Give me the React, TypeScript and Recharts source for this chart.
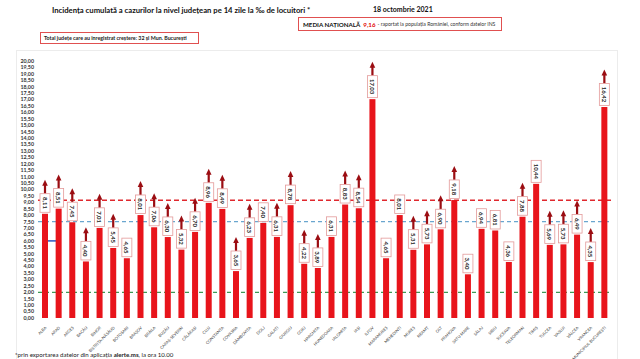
import { Bar, BarChart, ReferenceLine, XAxis, YAxis } from 'recharts';

const counties = [
  'ALBA', 'ARAD', 'ARGEȘ', 'BACĂU', 'BIHOR', 'BISTRIȚA-NĂSĂUD', 'BOTOȘANI', 'BRAȘOV', 'BRĂILA', 'BUZĂU',
  'CARAȘ-SEVERIN', 'CĂLĂRAȘI', 'CLUJ', 'CONSTANȚA', 'COVASNA', 'DÂMBOVIȚA', 'DOLJ', 'GALAȚI', 'GIURGIU', 'GORJ',
  'HARGHITA', 'HUNEDOARA', 'IALOMIȚA', 'IAȘI', 'ILFOV', 'MARAMUREȘ', 'MEHEDINȚI', 'MUREȘ', 'NEAMȚ', 'OLT',
  'PRAHOVA', 'SATU MARE', 'SĂLAJ', 'SIBIU', 'SUCEAVA', 'TELEORMAN', 'TIMIȘ', 'TULCEA', 'VASLUI', 'VÂLCEA',
  'VRANCEA', 'MUNICIPIUL BUCUREȘTI',
];

const incidence = [
  8.11, 8.51, 7.45, 4.4, 7.01, 5.45, 4.65, 8.01, 7.06, 6.3,
  5.32, 6.7, 8.96, 8.49, 3.65, 6.23, 7.4, 6.31, 8.78, 4.22,
  3.89, 6.31, 8.83, 8.54, 17.03, 4.65, 8.01, 5.31, 5.73, 6.9,
  9.18, 3.4, 6.94, 6.81, 4.36, 7.88, 10.44, 5.69, 5.73, 6.49,
  4.35, 16.42,
];

// true = county registered an increase (arrow above the tag)
const rising = [
  true, true, true, true, true, true, false, true, true, true,
  true, true, true, true, true, true, false, true, true, true,
  true, false, true, true, true, false, false, true, true, true,
  true, false, false, false, false, true, false, true, true, true,
  true, true,
];

const yTicks = [
  0, 0.5, 1, 1.5, 2, 2.5, 3, 3.5, 4, 4.5, 5, 5.5, 6, 6.5, 7, 7.5, 8, 8.5, 9, 9.5,
  10, 10.5, 11, 11.5, 12, 12.5, 13, 13.5, 14, 14.5, 15, 15.5, 16, 16.5, 17, 17.5,
  18, 18.5, 19, 19.5, 20,
];

const nationalAverage = 9.16;
const blueLevel = 7.5;
const greenLevel = 2;
const blueMark = 6;

const data = counties.map((name, i) => ({ name, value: incidence[i], up: rising[i] }));

const fmt = (v: number) => v.toFixed(2).replace('.', ',');

const BarWithTag = (p: any) => {
  const { x, y, width, height, payload } = p;
  const cx = x + width / 2;
  const label = fmt(payload.value);
  const bw = 10;
  const bh = label.length * 3.4 + 5;
  const top = y - 1.5 - bh;
  return (
    <g>
      <rect x={x} y={y} width={width} height={height} fill='#e8141b' />
      {payload.up && (
        <g fill='#9b0d12'>
          <rect x={cx - 1.1} y={top - 9} width={2.2} height={9} />
          <polygon points={`${cx - 2.8},${top - 8} ${cx + 2.8},${top - 8} ${cx},${top - 14}`} />
        </g>
      )}
      <rect x={cx - bw / 2} y={top} width={bw} height={bh} fill='#fff' stroke='#e39a9a' strokeWidth={0.8} />
      <text
        transform={`translate(${cx},${top + bh / 2}) rotate(90)`}
        textAnchor='middle'
        dominantBaseline='central'
        fontSize={6}
        fontWeight='bold'
        fill='#222'
        fontFamily='Lato, sans-serif'
      >
        {label}
      </text>
    </g>
  );
};

const CountyTick = (p: any) => {
  const { x, y, payload } = p;
  return (
    <text
      transform={`translate(${x + 2},${y + 2}) rotate(-45)`}
      textAnchor='end'
      fontSize={4}
      fill='#444'
      fontFamily='Lato, sans-serif'
    >
      {payload.value}
    </text>
  );
};

const App = () => {
  return (
    <div style={{ position: 'absolute', left: 0, top: 0, width: 640, height: 359, background: '#fff', fontFamily: 'Lato, sans-serif', overflow: 'hidden' }}>
      <div style={{ position: 'absolute', left: 16, top: 50, width: 600, height: 320, border: '1px solid #ececec' }} />
      <div style={{ position: 'absolute', left: 52, top: 5, fontSize: 7.7, fontWeight: 'bold', whiteSpace: 'nowrap', color: '#111' }}>
        Incidența cumulată a cazurilor la nivel județean pe 14 zile la ‰ de locuitori *
      </div>
      <div style={{ position: 'absolute', left: 373, top: 5, fontSize: 7, fontWeight: 'bold', whiteSpace: 'nowrap', color: '#111' }}>
        18 octombrie 2021
      </div>
      <div style={{ position: 'absolute', left: 298, top: 17, width: 204, height: 14, border: '1px solid #e05050', boxSizing: 'border-box', display: 'flex', alignItems: 'center', paddingLeft: 4, whiteSpace: 'nowrap' }}>
        <span style={{ fontSize: 6.2, fontWeight: 'bold', color: '#111' }}>MEDIA NAȚIONALĂ</span>
        <span style={{ fontSize: 6.2, fontWeight: 'bold', color: '#e00000', marginLeft: 3 }}>{fmt(nationalAverage)}</span>
        <span style={{ fontSize: 5.1, color: '#333', marginLeft: 2 }}>-  raportat la populația României, conform datelor INS</span>
      </div>
      <div style={{ position: 'absolute', left: 40, top: 32, width: 159, height: 12, border: '1px solid #e05050', boxSizing: 'border-box', display: 'flex', alignItems: 'center', paddingLeft: 3, whiteSpace: 'nowrap' }}>
        <span style={{ fontSize: 5.3, fontWeight: 'bold', color: '#222' }}>Total județe care au înregistrat creștere:  32 și Mun. București</span>
      </div>
      <div style={{ position: 'absolute', left: 0, top: 0 }}>
        <BarChart width={640} height={359} data={data} margin={{ top: 61, right: 29, bottom: 0, left: 0 }}>
          <YAxis
            domain={[0, 20]}
            ticks={yTicks}
            interval={0}
            width={38}
            axisLine={false}
            tickLine={false}
            tickSize={0}
            tickMargin={4}
            tickFormatter={fmt}
            tick={{ fontSize: 5.3, fontWeight: 'bold', fill: '#333', fontFamily: 'Lato, sans-serif' }}
          />
          <XAxis dataKey='name' interval={0} height={41} axisLine={false} tickLine={false} tick={<CountyTick />} />
          <ReferenceLine y={greenLevel} stroke='#3c9a55' strokeDasharray='4 3' strokeWidth={1.3} zIndex={-50} />
          <ReferenceLine y={blueLevel} stroke='#6aa6cf' strokeDasharray='4 3' strokeWidth={1.3} zIndex={-50} />
          <ReferenceLine y={nationalAverage} stroke='#e0282e' strokeDasharray='5 3' strokeWidth={1.5} zIndex={-50} />
          <ReferenceLine segment={[{ x: 'ALBA', y: blueMark }, { x: 'ARAD', y: blueMark }]} stroke='#2a55c0' strokeWidth={1.5} zIndex={-50} />
          <Bar dataKey='value' barSize={6} isAnimationActive={false} shape={<BarWithTag />} />
        </BarChart>
      </div>
      <div style={{ position: 'absolute', left: 15, top: 351, fontSize: 6.1, whiteSpace: 'nowrap', color: '#222' }}>
        *prin exportarea datelor din aplicația <b>alerte.ms</b>, la ora 10.00
      </div>
    </div>
  );
};

export default App;
